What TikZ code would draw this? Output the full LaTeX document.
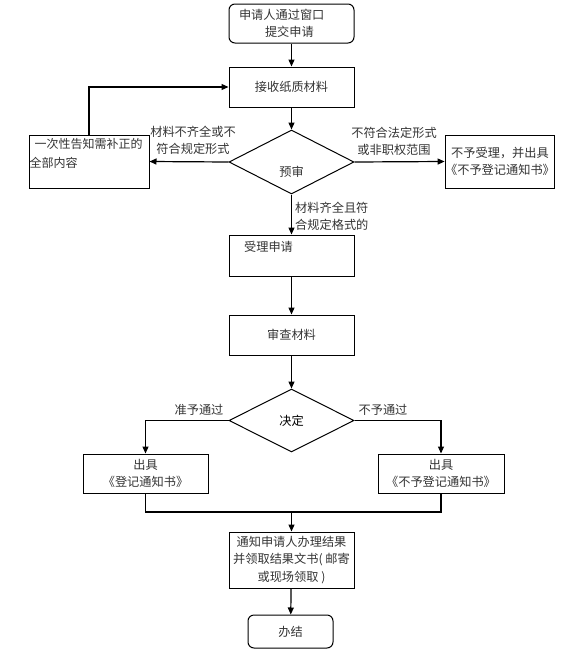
\documentclass[tikz,border=0pt]{standalone}
\usepackage{fontspec}
\setmainfont{Noto Sans CJK SC}
\usetikzlibrary{arrows.meta,positioning,shapes.geometric}
\tikzset{
  procbox/.style={draw, line width=1pt, inner sep=0pt, align=center,
              minimum width=125pt, minimum height=40pt, text=black!80},
  roundbox/.style={procbox, rounded corners=6pt},
  decision/.style={draw, diamond, line width=1pt, inner sep=0pt,
              minimum width=125pt, minimum height=64pt},
  note/.style={inner sep=0pt, align=center, text=black!80},
  flow/.style={-{Triangle[length=7pt,width=6pt]}, line width=1.2pt},
}
\begin{document}
\begin{tikzpicture}[x=1pt,y=-1pt,font=\fontsize{12.2}{17}\selectfont]
        \useasboundingbox (0,0) rectangle (584,670);
        % main column
        \node[roundbox,minimum height=39pt,text width=105pt,align=left] (apply) at (291.5,23.5) {申请人通过窗口\\\hspace*{26pt}提交申请};
        \node[procbox] (recv) at (291.5,87) {接收纸质材料};
        \node[decision] (pre) at (291.5,162) {};
        \node[note] (pretxt) at (291.5,172) {预审};
        \node[procbox,minimum width=120pt,minimum height=53pt] (fix) at (89,161.5) {};
        \node[note,anchor=north west,align=left,font=\fontsize{12}{19}\selectfont] (fixtxt) at (29.5,138) {\hspace*{5pt}一次性告知需补正的\\全部内容};
        \node[procbox,minimum width=108pt,minimum height=53pt] (reject) at (500,161.5) {不予受理，并出具\\《不予登记通知书》};
        \node[procbox,minimum height=41pt] (accept) at (291.5,255.5) {};
        \node[note] (acctxt) at (268.5,247) {受理申请};
        \node[procbox] (check) at (291.5,335) {审查材料};
        \node[decision,minimum height=63pt] (decide) at (291.5,420.5) {决定};
        \node[procbox,minimum height=39pt] (okdoc) at (145.5,473.5) {出具\\《登记通知书》};
        \node[procbox,minimum width=126pt,minimum height=39pt] (nodoc) at (441,473.5) {出具\\《不予登记通知书》};
        \coordinate (join) at (291.5,512);
        \node[procbox,minimum height=56pt,font=\fontsize{12.2}{17.5}\selectfont] (notify) at (291.5,560) {通知申请人办理结果\\并领取结果文书( 邮寄\\或现场领取 )};
        \node[roundbox,minimum width=85pt,minimum height=33pt] (done) at (290.5,631.5) {办结};
        % branch labels
        \node[note] (lblfix) at (193,140.5) {材料不齐全或不\\符合规定形式};
        \node[note] (lblrej) at (394,141.5) {不符合法定形式\\或非职权范围};
        \node[note,anchor=west,align=left] (lblacc) at (295,216.5) {材料齐全且符\\合规定格式的};
        \node[note] (lblok) at (199,410) {准予通过};
        \node[note] (lblno) at (383,410) {不予通过};
        % connectors
        \draw[flow] (apply) -- (recv);
        \draw[flow] (recv) -- (pre);
        \draw[flow] (pre.west) -- (fix.east);
        \draw[flow] (pre.east) -- (reject.west);
        \draw[flow] (fix.north) |- (recv.west);
        \draw[flow] (pre.south) -- (accept.north);
        \draw[flow] (accept) -- (check);
        \draw[flow] (check) -- (decide);
        \draw[flow] (decide.west) -| (okdoc.north);
        \draw[flow] (decide.east) -| (nodoc.north);
        \draw[line width=1.2pt] (okdoc.south) |- (join) -| (nodoc.south);
        \draw[flow] (join) -- (notify.north);
        \draw[flow] (notify) -- (done);
      \end{tikzpicture}
\end{document}
